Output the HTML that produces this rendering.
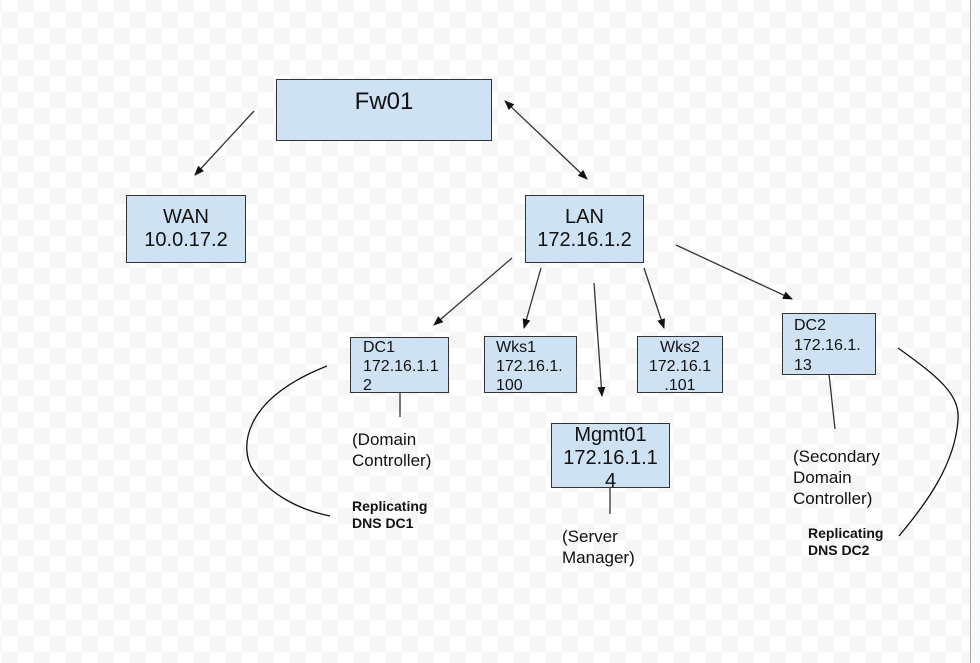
<!DOCTYPE html>
<html><head><meta charset="utf-8"><style>
html,body{margin:0;padding:0}
body{width:980px;height:663px;position:relative;overflow:hidden;font-family:"Liberation Sans",Arial,sans-serif;
background-color:#fff;
background-image:conic-gradient(#f6f6f6 25%,#fff 0 50%,#f6f6f6 0 75%,#fff 0);
background-size:32px 32px;background-position:2px -4px;}
.edge{position:absolute;left:970px;top:0;width:10px;height:663px;background:#f8f9fb;border-left:1px solid #aaa}
.b{position:absolute;background:#cfe2f3;border:1px solid #333;box-sizing:border-box;color:#111}
.t{position:absolute;color:#111;font-size:17px;line-height:21px}
.bold{font-weight:bold;font-size:14px;line-height:17px}
</style></head><body>
<div class="edge"></div>
<svg width="980" height="663" style="position:absolute;left:0;top:0">
<defs><marker id="a" markerWidth="10" markerHeight="8" refX="9" refY="4" orient="auto" markerUnits="userSpaceOnUse"><path d="M0,0L10,4L0,8z" fill="#111"/></marker>
<marker id="s" markerWidth="10" markerHeight="8" refX="1" refY="4" orient="auto" markerUnits="userSpaceOnUse"><path d="M10,0L0,4L10,8z" fill="#111"/></marker></defs>
<g stroke="#333" stroke-width="1.3" fill="none">
<line x1="254" y1="111" x2="195" y2="175" marker-end="url(#a)"/>
<line x1="505" y1="101" x2="587" y2="179" marker-start="url(#s)" marker-end="url(#a)"/>
<line x1="512" y1="258" x2="434" y2="325" marker-end="url(#a)"/>
<line x1="541" y1="268" x2="524" y2="328" marker-end="url(#a)"/>
<line x1="594" y1="283" x2="602" y2="396" marker-end="url(#a)"/>
<line x1="644" y1="268" x2="664" y2="328" marker-end="url(#a)"/>
<line x1="676" y1="245" x2="792" y2="299" marker-end="url(#a)"/>
<line x1="400" y1="392" x2="400" y2="417"/>
<line x1="610" y1="480" x2="610" y2="514"/>
<line x1="829" y1="374" x2="835" y2="429"/>
<path d="M327,366 C240,400 240,450 253,470 C270,495 300,510 330,516" stroke="#111"/>
<path d="M898,348 C940,378 960,395 958,420 C955,465 925,505 899,536" stroke="#111"/>
</g></svg>
<div class="b" style="left:276px;top:79px;width:216px;height:62px;text-align:center;font-size:24px;padding-top:8px">Fw01</div>
<div class="b" style="left:126px;top:195px;width:120px;height:68px;text-align:center;font-size:20px;line-height:23px;padding-top:10px">WAN<br>10.0.17.2</div>
<div class="b" style="left:525px;top:195px;width:119px;height:68px;text-align:center;font-size:20px;line-height:23px;padding-top:10px">LAN<br>172.16.1.2</div>
<div class="b" style="left:350px;top:337px;width:99px;height:56px;font-size:16px;line-height:19px;padding:0 0 0 12px">DC1<br>172.16.1.1<br>2</div>
<div class="b" style="left:484px;top:336px;width:93px;height:57px;font-size:16px;line-height:19px;padding:1px 0 0 11px">Wks1<br>172.16.1.<br>100</div>
<div class="b" style="left:637px;top:336px;width:86px;height:57px;font-size:16px;line-height:19px;padding-top:1px;text-align:center">Wks2<br>172.16.1<br>.101</div>
<div class="b" style="left:551px;top:423px;width:119px;height:65px;font-size:20px;line-height:23px;text-align:center;padding-top:0">Mgmt01<br>172.16.1.1<br>4</div>
<div class="b" style="left:782px;top:313px;width:94px;height:62px;font-size:16px;line-height:20px;padding:2px 0 0 11px">DC2<br>172.16.1.<br>13</div>
<div class="t" style="left:352px;top:429px">(Domain<br>Controller)</div>
<div class="t bold" style="left:352px;top:498px">Replicating<br>DNS DC1</div>
<div class="t" style="left:562px;top:526px">(Server<br>Manager)</div>
<div class="t" style="left:793px;top:446px">(Secondary<br>Domain<br>Controller)</div>
<div class="t bold" style="left:808px;top:525px">Replicating<br>DNS DC2</div>
</body></html>
